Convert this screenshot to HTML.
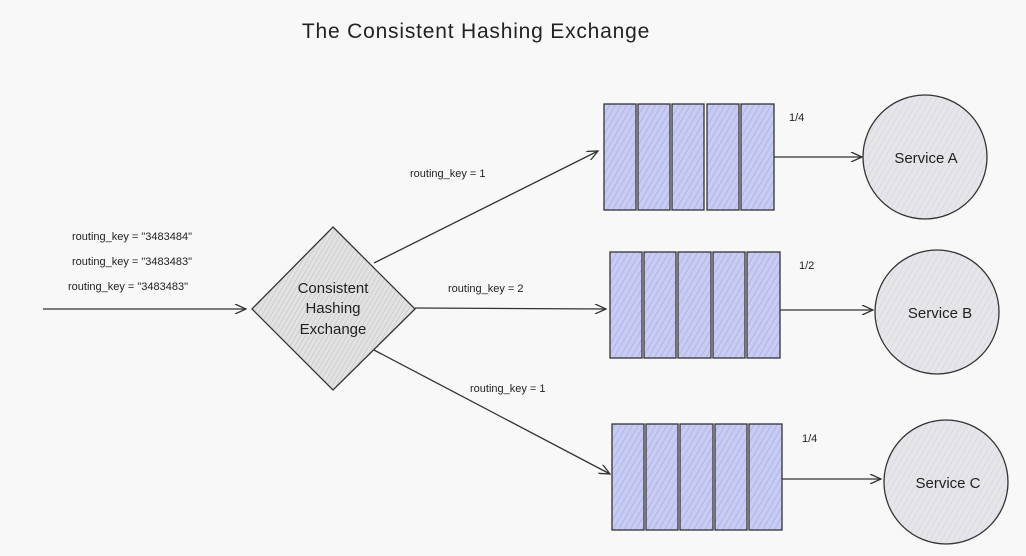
<!DOCTYPE html>
<html><head><style>
html,body{margin:0;padding:0;background:#f8f8f8;}
svg{display:block;}
text{font-family:"Liberation Sans",sans-serif;fill:#222;}
</style></head><body>
<svg width="1026" height="556" viewBox="0 0 1026 556">
<defs>
<pattern id="hq" width="5" height="5" patternUnits="userSpaceOnUse" patternTransform="rotate(30)">
<rect width="5" height="5" fill="#c8ccf2"/><line x1="0" y1="0" x2="0" y2="5" stroke="#a9aee8" stroke-width="1.5"/></pattern>
<pattern id="hd" width="4" height="4" patternUnits="userSpaceOnUse" patternTransform="rotate(30)">
<rect width="4" height="4" fill="#e2e2e2"/><line x1="0" y1="0" x2="0" y2="4" stroke="#c4c4c4" stroke-width="1.2"/></pattern>
<pattern id="hc" width="5" height="5" patternUnits="userSpaceOnUse" patternTransform="rotate(30)">
<rect width="5" height="5" fill="#e6e6ea"/><line x1="0" y1="0" x2="0" y2="5" stroke="#d4d4d8" stroke-width="1.2"/></pattern>
<marker id="ar" markerWidth="12" markerHeight="10" refX="11" refY="5" orient="auto" markerUnits="userSpaceOnUse">
<path d="M0,0 L11,5 L0,10" fill="none" stroke="#333" stroke-width="1.3"/></marker>
</defs>
<rect width="1026" height="556" fill="#f8f8f8"/>
<text x="476" y="38" font-size="21" text-anchor="middle" letter-spacing="0.8">The Consistent Hashing Exchange</text>

<g stroke="#333" stroke-width="1.3" fill="none" marker-end="url(#ar)">
<line x1="43" y1="309" x2="246" y2="309"/>
<line x1="374" y1="263" x2="598" y2="151"/>
<line x1="415" y1="308" x2="606" y2="309"/>
<line x1="374" y1="350" x2="610" y2="474"/>
<line x1="774" y1="157" x2="862" y2="157"/>
<line x1="780" y1="310" x2="873" y2="310"/>
<line x1="782" y1="479" x2="881" y2="479"/>
</g>

<polygon points="333,227 415,309 333,390 252,309" fill="url(#hd)" stroke="#333" stroke-width="1.3"/>
<text x="333" y="293" font-size="15" text-anchor="middle">Consistent</text>
<text x="333" y="313" font-size="15" text-anchor="middle">Hashing</text>
<text x="333" y="334" font-size="15" text-anchor="middle">Exchange</text>

<g font-size="11">
<text x="72" y="240">routing_key = "3483484"</text>
<text x="72" y="265">routing_key = "3483483"</text>
<text x="68" y="290">routing_key = "3483483"</text>
<text x="410" y="177">routing_key = 1</text>
<text x="448" y="292">routing_key = 2</text>
<text x="470" y="392">routing_key = 1</text>
<text x="789" y="121">1/4</text>
<text x="799" y="269">1/2</text>
<text x="802" y="442">1/4</text>
</g>

<g fill="url(#hq)" stroke="#333" stroke-width="1.3">
<rect x="604" y="104" width="32" height="106"/><rect x="638" y="104" width="32" height="106"/><rect x="672" y="104" width="32" height="106"/><rect x="707" y="104" width="32" height="106"/><rect x="741" y="104" width="33" height="106"/>
<rect x="610" y="252" width="32" height="106"/><rect x="644" y="252" width="32" height="106"/><rect x="678" y="252" width="33" height="106"/><rect x="713" y="252" width="32" height="106"/><rect x="747" y="252" width="33" height="106"/>
<rect x="612" y="424" width="32" height="106"/><rect x="646" y="424" width="32" height="106"/><rect x="680" y="424" width="33" height="106"/><rect x="715" y="424" width="32" height="106"/><rect x="749" y="424" width="33" height="106"/>
</g>

<g fill="url(#hc)" stroke="#333" stroke-width="1.3">
<circle cx="925" cy="157" r="62"/>
<circle cx="937" cy="312" r="62"/>
<circle cx="946" cy="482" r="62"/>
</g>
<g font-size="15" text-anchor="middle">
<text x="926" y="163">Service A</text>
<text x="940" y="318">Service B</text>
<text x="948" y="488">Service C</text>
</g>
</svg>
</body></html>
